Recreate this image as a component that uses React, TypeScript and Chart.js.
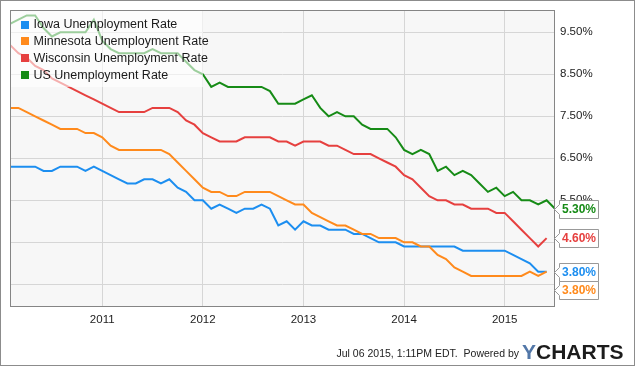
import React, { useEffect, useRef } from 'react';
import { Chart, registerables } from 'chart.js';

Chart.register(...registerables);

// ---- data ----
const months = [
  '2010-01', '2010-02', '2010-03', '2010-04', '2010-05', '2010-06', '2010-07', '2010-08', '2010-09', '2010-10', '2010-11', '2010-12',
  '2011-01', '2011-02', '2011-03', '2011-04', '2011-05', '2011-06', '2011-07', '2011-08', '2011-09', '2011-10', '2011-11', '2011-12',
  '2012-01', '2012-02', '2012-03', '2012-04', '2012-05', '2012-06', '2012-07', '2012-08', '2012-09', '2012-10', '2012-11', '2012-12',
  '2013-01', '2013-02', '2013-03', '2013-04', '2013-05', '2013-06', '2013-07', '2013-08', '2013-09', '2013-10', '2013-11', '2013-12',
  '2014-01', '2014-02', '2014-03', '2014-04', '2014-05', '2014-06', '2014-07', '2014-08', '2014-09', '2014-10', '2014-11', '2014-12',
  '2015-01', '2015-02', '2015-03', '2015-04', '2015-05', '2015-06',
];

const iowa = [
  6.3, 6.3, 6.3, 6.3, 6.2, 6.2, 6.3, 6.3, 6.3, 6.2,
  6.3, 6.2, 6.1, 6.0, 5.9, 5.9, 6.0, 6.0, 5.9, 6.0,
  5.8, 5.7, 5.5, 5.5, 5.3, 5.4, 5.3, 5.2, 5.3, 5.3,
  5.4, 5.3, 4.9, 5.0, 4.8, 5.0, 4.9, 4.9, 4.8, 4.8,
  4.8, 4.7, 4.7, 4.6, 4.5, 4.5, 4.5, 4.4, 4.4, 4.4,
  4.4, 4.4, 4.4, 4.4, 4.3, 4.3, 4.3, 4.3, 4.3, 4.3,
  4.2, 4.1, 4.0, 3.8, 3.8,
];

const minnesota = [
  7.7, 7.7, 7.6, 7.5, 7.4, 7.3, 7.2, 7.2, 7.2, 7.1,
  7.1, 7.0, 6.8, 6.7, 6.7, 6.7, 6.7, 6.7, 6.7, 6.6,
  6.4, 6.2, 6.0, 5.8, 5.7, 5.7, 5.6, 5.6, 5.7, 5.7,
  5.7, 5.7, 5.6, 5.5, 5.4, 5.4, 5.2, 5.1, 5.0, 4.9,
  4.9, 4.8, 4.7, 4.7, 4.6, 4.6, 4.6, 4.5, 4.5, 4.4,
  4.4, 4.2, 4.1, 3.9, 3.8, 3.7, 3.7, 3.7, 3.7, 3.7,
  3.7, 3.7, 3.8, 3.7, 3.8,
];

const wisconsin = [
  9.2, 9.0, 8.9, 8.7, 8.6, 8.4, 8.3, 8.2, 8.1, 8.0,
  7.9, 7.8, 7.7, 7.6, 7.6, 7.6, 7.6, 7.7, 7.7, 7.7,
  7.6, 7.4, 7.3, 7.1, 7.0, 6.9, 6.9, 6.9, 7.0, 7.0,
  7.0, 7.0, 6.9, 6.9, 6.8, 6.9, 6.9, 6.9, 6.8, 6.8,
  6.7, 6.6, 6.6, 6.6, 6.5, 6.4, 6.3, 6.1, 6.0, 5.8,
  5.6, 5.5, 5.5, 5.4, 5.4, 5.3, 5.3, 5.3, 5.2, 5.2,
  5.0, 4.8, 4.6, 4.4, 4.6,
];

const us = [
  9.7, 9.8, 9.9, 9.9, 9.6, 9.4, 9.5, 9.5, 9.5, 9.5,
  9.8, 9.3, 9.1, 9.0, 9.0, 9.0, 9.0, 9.1, 9.0, 9.0,
  9.0, 8.8, 8.6, 8.5, 8.2, 8.3, 8.2, 8.2, 8.2, 8.2,
  8.2, 8.1, 7.8, 7.8, 7.8, 7.9, 8.0, 7.7, 7.5, 7.6,
  7.5, 7.5, 7.3, 7.2, 7.2, 7.2, 7.0, 6.7, 6.6, 6.7,
  6.6, 6.2, 6.3, 6.1, 6.2, 6.1, 5.9, 5.7, 5.8, 5.6,
  5.7, 5.5, 5.5, 5.4, 5.5, 5.3,
];

const seriesNames = [
  'Iowa Unemployment Rate',
  'Minnesota Unemployment Rate',
  'Wisconsin Unemployment Rate',
  'US Unemployment Rate',
];
const seriesValues = [iowa, minnesota, wisconsin, us];
const seriesColors = ['#1c8ef0', '#ff8a1c', '#e6403f', '#168b16'];

const yearTicks = [2011, 2012, 2013, 2014, 2015];
const rateTicks = [3.5, 4.5, 5.5, 6.5, 7.5, 8.5, 9.5];
const rateMin = 2.96;
const rateMax = 10.03;
const footerText = 'Jul 06 2015, 1:11PM EDT.  Powered by';
const logoFirst = 'Y';
const logoRest = 'CHARTS';

// ---- helpers ----
const FONT = '"Liberation Sans", Arial, Helvetica, sans-serif';
const monthToX = (s: string) => {
  const [yy, mm] = s.split('-').map(Number);
  return yy + mm / 12; // month-end position
};

const decorPlugin = {
  id: 'decor',
  beforeDraw(chart: any) {
    const { ctx, chartArea: a, width, height } = chart;
    ctx.save();
    ctx.fillStyle = '#ffffff';
    ctx.fillRect(0, 0, width, height);
    ctx.fillStyle = '#f7f7f7';
    ctx.fillRect(a.left, a.top, a.right - a.left, a.bottom - a.top);
    ctx.restore();
  },
  afterDatasetsDraw(chart: any) {
    const { ctx, chartArea: a } = chart;
    ctx.save();
    // legend overlay
    ctx.fillStyle = 'rgba(255,255,255,0.58)';
    ctx.fillRect(a.left, a.top, 193, 77);
    ctx.font = `12.5px ${FONT}`;
    ctx.textBaseline = 'middle';
    ctx.textAlign = 'left';
    chart.data.datasets.forEach((ds: any, i: number) => {
      const cy = a.top + 14.5 + i * 16.8;
      ctx.fillStyle = ds.borderColor;
      ctx.fillRect(a.left + 11, Math.round(cy - 4), 8, 8);
      ctx.fillStyle = '#1a1a1a';
      ctx.fillText(ds.label, a.left + 23.5, cy + 0.5);
    });
    // plot border
    ctx.strokeStyle = '#858585';
    ctx.lineWidth = 1;
    ctx.strokeRect(a.left + 0.5, a.top + 0.5, a.right - a.left - 1, a.bottom - a.top - 1);
    ctx.restore();
  },
  afterDraw(chart: any) {
    const { ctx, chartArea: a, width, height } = chart;
    ctx.save();
    // end-value labels
    const items = chart.data.datasets.map((ds: any, i: number) => {
      const meta = chart.getDatasetMeta(i);
      const last = meta.data[meta.data.length - 1];
      const v = ds.data[ds.data.length - 1].y;
      return { y: last.y, text: v.toFixed(2) + '%', color: ds.borderColor };
    });
    items.sort((p: any, q: any) => p.y - q.y);
    const h = 18;
    const w = 39;
    let prev = -Infinity;
    const bx = a.right + 4.5;
    const tip = a.right - 0.5;
    items.forEach((it: any) => {
      let cy = Math.max(it.y, prev + h);
      prev = cy;
      cy = Math.round(cy) + 0.5;
      ctx.beginPath();
      ctx.moveTo(bx, cy - h / 2);
      ctx.lineTo(bx + w, cy - h / 2);
      ctx.lineTo(bx + w, cy + h / 2);
      ctx.lineTo(bx, cy + h / 2);
      ctx.lineTo(bx, cy + 5);
      ctx.lineTo(tip, cy);
      ctx.lineTo(bx, cy - 5);
      ctx.closePath();
      ctx.fillStyle = '#ffffff';
      ctx.fill();
      ctx.strokeStyle = '#999999';
      ctx.lineWidth = 1;
      ctx.stroke();
      ctx.fillStyle = it.color;
      ctx.font = `bold 12px ${FONT}`;
      ctx.textAlign = 'center';
      ctx.textBaseline = 'middle';
      ctx.fillText(it.text, bx + w / 2, cy + 0.5);
    });
    // footer
    ctx.textBaseline = 'alphabetic';
    ctx.textAlign = 'right';
    ctx.fillStyle = '#222222';
    ctx.font = `10.5px ${FONT}`;
    ctx.fillText(footerText, 519, 357);
    ctx.textAlign = 'left';
    ctx.font = `bold 21px ${FONT}`;
    ctx.fillStyle = '#5277a8';
    ctx.fillText(logoFirst, 522, 358.5);
    const yw = ctx.measureText(logoFirst).width;
    ctx.fillStyle = '#1c1c1c';
    ctx.fillText(logoRest, 522 + yw, 358.5);
    // outer border
    ctx.strokeStyle = '#8c8c8c';
    ctx.lineWidth = 1;
    ctx.strokeRect(0.5, 0.5, width - 1, height - 1);
    ctx.restore();
  },
};

export default function App() {
  const ref = useRef<HTMLCanvasElement | null>(null);

  useEffect(() => {
    if (!ref.current) return;
    const datasets = seriesValues.map((vals, i) => ({
      label: seriesNames[i],
      data: vals.map((v, k) => ({ x: monthToX(months[k]), y: v })),
      borderColor: seriesColors[i],
      backgroundColor: seriesColors[i],
      borderWidth: 2,
      pointRadius: 0,
      tension: 0,
      fill: false,
      order: seriesValues.length - i,
    }));
    const chart = new Chart(ref.current, {
      type: 'line',
      data: { datasets },
      options: {
        animation: false,
        responsive: false,
        devicePixelRatio: 1,
        parsing: false as any,
        layout: { padding: { left: 10, top: 10, right: 0, bottom: 0 } },
        plugins: { legend: { display: false }, tooltip: { enabled: false } },
        events: [],
        scales: {
          x: {
            type: 'linear',
            position: 'bottom',
            min: monthToX(months[0]),
            max: monthToX(months[months.length - 1]),
            afterBuildTicks: (s: any) => {
              s.ticks = yearTicks.map((v) => ({ value: v }));
            },
            afterFit: (s: any) => {
              s.height = 59;
              s.paddingLeft = 0;
              s.paddingRight = 0;
            },
            grid: { color: '#d6d6d6', drawTicks: false, lineWidth: 1 },
            border: { display: false },
            ticks: {
              padding: 6,
              color: '#222222',
              font: { family: FONT, size: 11.5 },
              maxRotation: 0,
              autoSkip: false,
              callback: (v: any) => String(v),
            },
          },
          y: {
            type: 'linear',
            position: 'right',
            min: rateMin,
            max: rateMax,
            afterBuildTicks: (s: any) => {
              s.ticks = rateTicks.map((v) => ({ value: v }));
            },
            afterFit: (s: any) => {
              s.width = 80;
              s.paddingTop = 0;
              s.paddingBottom = 0;
            },
            grid: { color: '#d6d6d6', drawTicks: false, lineWidth: 1 },
            border: { display: false },
            ticks: {
              padding: 5,
              color: '#222222',
              font: { family: FONT, size: 11.5 },
              autoSkip: false,
              callback: (v: any) => Number(v).toFixed(2) + '%',
            },
          },
        },
      },
      plugins: [decorPlugin],
    });
    return () => chart.destroy();
  }, []);

  return (
    <div style={{ position: 'absolute', left: 0, top: 0, width: 635, height: 366 }}>
      <canvas ref={ref} width={635} height={366} style={{ display: 'block', width: 635, height: 366 }} />
    </div>
  );
}
